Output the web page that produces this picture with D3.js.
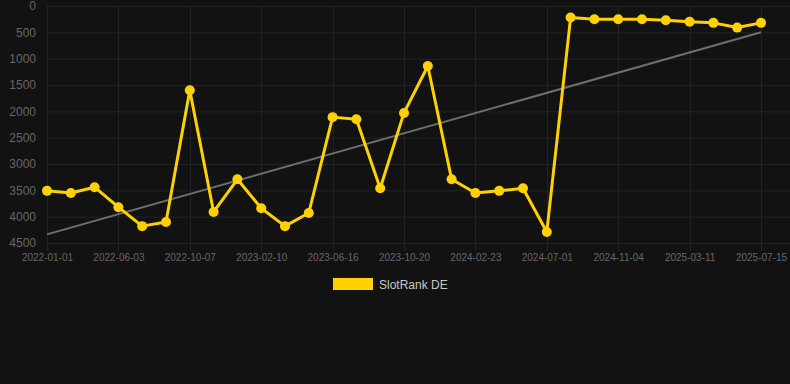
<!DOCTYPE html>
<html>
<head>
<meta charset="utf-8">
<script src="https://cdn.jsdelivr.net/npm/d3@7"></script>
<style>
  html, body { margin: 0; padding: 0; background: #121212; }
  svg { display: block; }
</style>
</head>
<body>
<div id="chart"></div>
<script>
const WIDTH = 790;
const HEIGHT = 384;
const LEFT = 47;
const RIGHT = 761;
const TOP = 6;
const BOTTOM = 243;
const LINE_COLOR = '#FFD100';
const GRID_COLOR = '#232323';
const TEXT_COLOR = '#666';

// categories (dates of each sample)
const dates = [
  '2022-01-01', '2022-02-20', '2022-04-12', '2022-06-03', '2022-07-15', '2022-08-26',
  '2022-10-07', '2022-11-18', '2022-12-30', '2023-02-10', '2023-03-24', '2023-05-05',
  '2023-06-16', '2023-07-28', '2023-09-08', '2023-10-20', '2023-12-01', '2024-01-12',
  '2024-02-23', '2024-04-05', '2024-05-18', '2024-07-01', '2024-08-12', '2024-09-23',
  '2024-11-04', '2024-12-16', '2025-01-27', '2025-03-11', '2025-04-22', '2025-06-03',
  '2025-07-15'
];

// rank values
const ranks = [
  3510, 3550, 3440, 3820, 4180, 4100,
  1600, 3910, 3290, 3840, 4180, 3930,
  2110, 2150, 3460, 2030, 1140, 3290,
  3550, 3510, 3460, 4290, 220, 250,
  250, 250, 270, 300, 320, 410,
  320
];

const yTicks = [0, 500, 1000, 1500, 2000, 2500, 3000, 3500, 4000, 4500];
const xTickLabels = dates.filter((d, i) => i % 3 === 0);
const seriesName = 'SlotRank DE';

const svg = d3.select('#chart')
  .append('svg')
  .attr('width', WIDTH)
  .attr('height', HEIGHT)
  .style('font-family', 'Arial, "Liberation Sans", sans-serif');

const xScale = d3.scalePoint()
  .domain(dates)
  .range([LEFT, RIGHT]);
const yScale = d3.scaleLinear()
  .domain([0, 4500])
  .range([TOP, BOTTOM]);

// grid
svg.append('g')
  .selectAll('line')
  .data(yTicks)
  .enter()
  .append('line')
  .attr('x1', LEFT)
  .attr('x2', WIDTH)
  .attr('y1', d => yScale(d) + 0.5)
  .attr('y2', d => yScale(d) + 0.5)
  .attr('stroke', GRID_COLOR);

svg.append('g')
  .selectAll('line')
  .data(xTickLabels)
  .enter()
  .append('line')
  .attr('x1', d => Math.round(xScale(d)) + 0.5)
  .attr('x2', d => Math.round(xScale(d)) + 0.5)
  .attr('y1', TOP)
  .attr('y2', BOTTOM + 8)
  .attr('stroke', GRID_COLOR);

// axes
const yAxis = d3.axisLeft(yScale)
  .tickValues(yTicks)
  .tickFormat(d3.format('d'))
  .tickSize(0)
  .tickPadding(11);
svg.append('g')
  .attr('transform', `translate(${LEFT}, 0)`)
  .call(yAxis)
  .call(g => g.select('.domain').remove())
  .selectAll('text')
  .attr('fill', TEXT_COLOR)
  .style('font-size', '12px');

const xAxis = d3.axisBottom(xScale).tickValues(xTickLabels).tickSize(0).tickPadding(11);
svg.append('g')
  .attr('transform', `translate(0, ${BOTTOM})`)
  .call(xAxis)
  .call(g => g.select('.domain').remove())
  .selectAll('text')
  .attr('fill', TEXT_COLOR)
  .style('font-size', '10px');

// trend line (least squares over the series)
const n = ranks.length;
const meanX = (n - 1) / 2;
const meanY = d3.mean(ranks);
let num = 0, den = 0;
ranks.forEach((v, i) => {
  num += (i - meanX) * (v - meanY);
  den += (i - meanX) * (i - meanX);
});
const slope = num / den;
const trendAt = i => meanY + slope * (i - meanX);

svg.append('line')
  .attr('x1', xScale(dates[0]))
  .attr('x2', xScale(dates[n - 1]))
  .attr('y1', yScale(trendAt(0)))
  .attr('y2', yScale(trendAt(n - 1)))
  .attr('stroke', '#6e6e6e')
  .attr('stroke-width', 2);

// series line
const line = d3.line()
  .x((d, i) => xScale(dates[i]))
  .y(d => yScale(d));

svg.append('path')
  .datum(ranks)
  .attr('d', line)
  .attr('fill', 'none')
  .attr('stroke', LINE_COLOR)
  .attr('stroke-width', 3)
  .attr('stroke-linejoin', 'round');

svg.append('g')
  .selectAll('circle')
  .data(ranks)
  .enter()
  .append('circle')
  .attr('cx', (d, i) => xScale(dates[i]))
  .attr('cy', d => yScale(d))
  .attr('r', 5)
  .attr('fill', LINE_COLOR);

// legend
const legend = svg.append('g').attr('transform', 'translate(333, 278)');
legend.append('rect')
  .attr('width', 40)
  .attr('height', 12)
  .attr('fill', LINE_COLOR);
legend.append('text')
  .attr('x', 46)
  .attr('y', 10.5)
  .attr('fill', '#c8c8c8')
  .style('font-size', '12px')
  .text(seriesName);
</script>
</body>
</html>
